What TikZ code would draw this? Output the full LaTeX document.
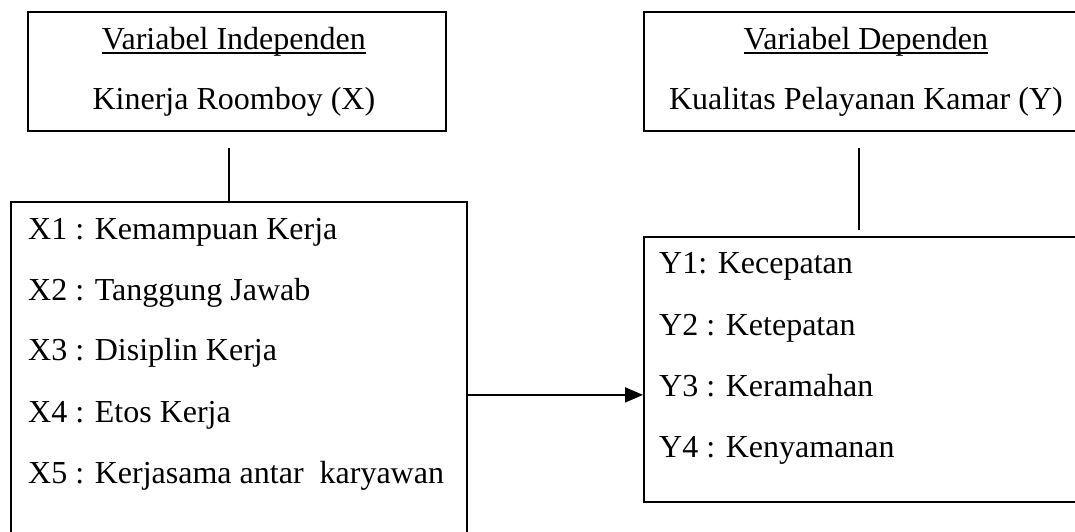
\documentclass[tikz,border=0pt]{standalone}
\usepackage{fontspec}
\setmainfont{Liberation Serif}
\usetikzlibrary{positioning, calc, arrows.meta}

\begin{document}
\begin{tikzpicture}[x=1pt, y=-1pt, font=\fontsize{32}{38}\selectfont]
		% gaya
		\tikzstyle{box} = [rectangle, draw, line width=1.8pt, anchor=north west, inner sep=0pt]
		\tikzstyle{title} = [anchor=base, inner sep=0pt]
		\tikzstyle{item} = [anchor=base west, inner sep=0pt]
		\tikzstyle{link} = [line width=1.8pt]
		\tikzstyle{arrow} = [line width=1.8pt, -{Triangle[length=18pt, width=15pt]}]
		\useasboundingbox (0,0) rectangle (1075,532);
		
		% kotak
		\node [box, minimum width=418pt, minimum height=119pt] (indep) at (27,11) {};
		\node [box, minimum width=444pt, minimum height=119pt] (dep) at (643,11) {};
		\node [box, minimum width=456pt, minimum height=386pt] (xlist) at (10,201) {};
		\node [box, minimum width=444pt, minimum height=265pt] (ylist) at (643,236) {};
		
		% judul
		\node [title] (indeptitle) at ($(indep.north)+(-3,39)$) {Variabel Independen};
		\node [title] (indepname) at ($(indep.north)+(-3,99)$) {Kinerja Roomboy (X)};
		\node [title] (deptitle) at ($(dep.north)+(0,39)$) {Variabel Dependen};
		\node [title] (depname) at ($(dep.north)+(0,99)$) {Kualitas Pelayanan Kamar (Y)};
		\draw [line width=1.4pt] ([yshift=-3pt]indeptitle.base west) -- ([yshift=-3pt]indeptitle.base east);
		\draw [line width=1.4pt] ([yshift=-3pt]deptitle.base west) -- ([yshift=-3pt]deptitle.base east);
		
		% indikator
		\node [item] (x1) at ($(xlist.north west)+(18,38)$) {X1 : Kemampuan Kerja};
		\node [item] (x2) at ($(xlist.north west)+(18,99)$) {X2 : Tanggung Jawab};
		\node [item] (x3) at ($(xlist.north west)+(18,159)$) {X3 : Disiplin Kerja};
		\node [item] (x4) at ($(xlist.north west)+(18,221)$) {X4 : Etos Kerja};
		\node [item] (x5) at ($(xlist.north west)+(18,282)$) {X5 : Kerjasama antar\ \ karyawan};
		\node [item] (y1) at ($(ylist.north west)+(16,37)$) {Y1: Kecepatan};
		\node [item] (y2) at ($(ylist.north west)+(16,99)$) {Y2 : Ketepatan};
		\node [item] (y3) at ($(ylist.north west)+(16,160)$) {Y3 : Keramahan};
		\node [item] (y4) at ($(ylist.north west)+(16,221)$) {Y4 : Kenyamanan};
		
		% garis
		\draw [link] ($(indep.south)+(-8,16)$) coordinate (itop) -- (itop |- xlist.north);
		\draw [link] ($(dep.south)+(-7,16)$) coordinate (dtop) -- ($(dtop |- ylist.north)+(0,-6)$);
		\draw [arrow] (xlist.east) -- (xlist.east -| ylist.west);
		\end{tikzpicture}
\end{document}
